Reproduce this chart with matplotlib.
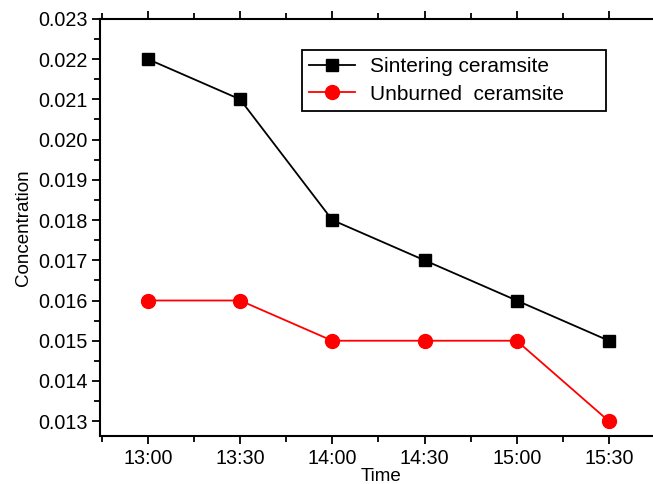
import matplotlib
matplotlib.use("Agg")
from matplotlib import pyplot
from matplotlib.ticker import MultipleLocator

times = ["13:00", "13:30", "14:00", "14:30", "15:00", "15:30"]
sintering = [0.022, 0.021, 0.018, 0.017, 0.016, 0.015]
unburned = [0.016, 0.016, 0.015, 0.015, 0.015, 0.013]

pyplot.rcParams["font.family"] = ["Liberation Sans", "DejaVu Sans"]

fig = pyplot.figure(figsize=(6.53, 4.84), dpi=100)
ax = fig.add_axes([0.153, 0.099, 0.86, 0.862])

x = list(range(len(times)))
ax.plot(x, sintering, color="black", marker="s", markersize=9, linewidth=1.3,
        label="Sintering ceramsite")
ax.plot(x, unburned, color="red", marker="o", markersize=10, linewidth=1.3,
        label="Unburned  ceramsite")

ax.set_xlim(-0.52, 5.57)
ax.set_ylim(0.01263, 0.023)
ax.set_xticks(x)
ax.set_xticklabels(times)
ax.xaxis.set_minor_locator(MultipleLocator(0.5))
ax.yaxis.set_major_locator(MultipleLocator(0.001))
ax.yaxis.set_minor_locator(MultipleLocator(0.0005))
ax.yaxis.set_major_formatter(matplotlib.ticker.FormatStrFormatter("%.3f"))

ax.spines["right"].set_visible(False)
for s in ["left", "bottom", "top"]:
    ax.spines[s].set_linewidth(1.5)
ax.tick_params(which="major", direction="out", length=6, width=1.3, labelsize=14.2,
               top=True, pad=3)
ax.tick_params(which="minor", direction="out", length=4, width=1.3, top=True)
ax.tick_params(axis="x", which="both", top=True, labeltop=False)

ax.set_xlabel("Time", fontsize=13.5, labelpad=0)
ax.set_ylabel("Concentration", fontsize=13.5, labelpad=4)

leg = ax.legend(loc="upper left", bbox_to_anchor=(0.36, 0.782, 0.541, 0.144),
                mode="expand", borderaxespad=0, fontsize=15,
                fancybox=False, edgecolor="black", framealpha=1,
                handlelength=2.2, handletextpad=0.7, borderpad=0.35,
                labelspacing=0.42)
leg.get_frame().set_linewidth(1.3)

fig.savefig("out.png")
